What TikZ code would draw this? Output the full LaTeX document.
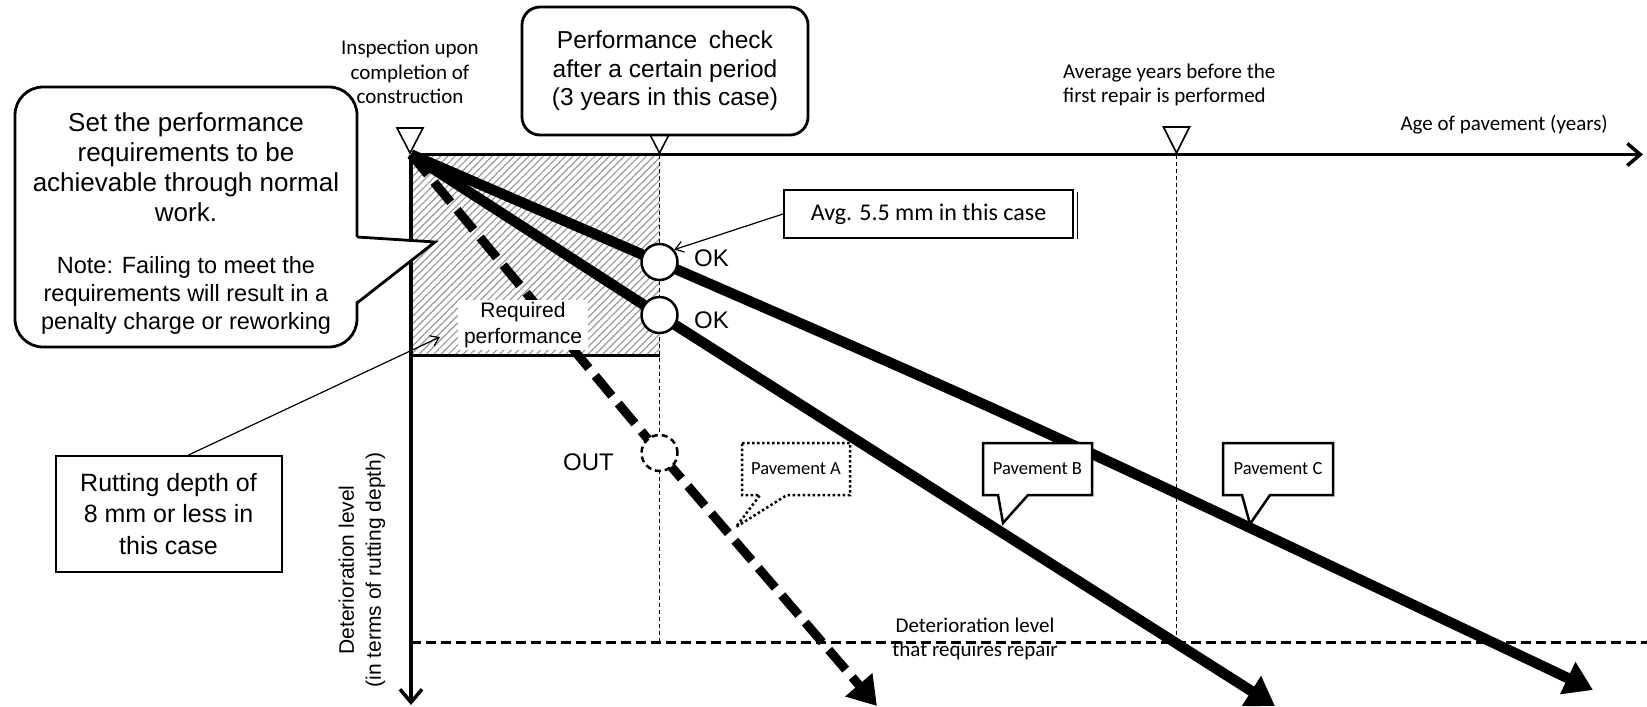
\documentclass[tikz,border=0pt]{standalone}
\usepackage{fontspec}
\setmainfont{Liberation Sans}
\newfontfamily\calfont{Carlito}
\usetikzlibrary{arrows.meta,patterns.meta}
\tikzset{
  axisline/.style={line width=3.5pt, -{Straight Barb[length=13pt,width=22pt]}},
  hatchfill/.style={pattern={Lines[angle=45,distance=5.2pt,line width=1.2pt]}, pattern color=black!40},
  reqedge/.style={line width=3pt},
  guide/.style={line width=1.2pt, dash pattern=on 4pt off 3pt},
  repairline/.style={line width=3pt, dash pattern=on 10pt off 5pt},
  pavline/.style={line width=10.5pt, -{Triangle[length=28pt,width=34pt]}},
  pavdash/.style={pavline, line width=9pt, dash pattern=on 26pt off 10pt},
  okmark/.style={circle, draw, fill=white, line width=2.5pt, minimum size=36pt, inner sep=0pt},
  outmark/.style={okmark, dash pattern=on 6pt off 4pt},
  marktext/.style={font=\fontsize{24}{28}\selectfont, inner sep=0pt},
  caltext/.style={font=\calfont\fontsize{21}{24.5}\selectfont, inner sep=0pt},
  pavtext/.style={font=\calfont\fontsize{18.5}{22}\selectfont, inner sep=0pt},
  pavcall/.style={draw, fill=white, line width=2.5pt, line join=miter},
  pavcalldot/.style={pavcall, dash pattern=on 2.5pt off 2.5pt},
  notebox/.style={draw, fill=white, line width=2pt, align=center},
  callbox/.style={draw, fill=white, line width=2.8pt},
  pointer/.style={line width=1.2pt, -{Straight Barb[length=8pt,width=11pt]}},
  tick/.style={draw, fill=white, line width=1.6pt},
}
\begin{document}
\begin{tikzpicture}[x=1pt,y=-1pt]
\useasboundingbox (0,0) rectangle (1647,707);

% key points of the chart
\coordinate (O) at (411,154.5);
\coordinate (chkC) at (659.5,262);
\coordinate (chkB) at (659.5,315);
\coordinate (chkA) at (659.5,453);
\coordinate (endA) at (877,706);
\coordinate (endB) at (1275,706);
\coordinate (endC) at (1593,690);
\coordinate (xend) at (1643,154.5);
\coordinate (yend) at (411,705);
\coordinate (reqtip) at (440,337);

% required performance area
\fill[hatchfill] (O) rectangle (659.5,355.5);
\draw[reqedge] (411,355.5) -- (659.5,355.5);

% guides
\draw[guide] (659.5,154.5) -- (659.5,642);
\draw[guide] (1176.5,154.5) -- (1176.5,642);
\draw[repairline] (411,642) -- (1647,642);

% axes
\draw[axisline] (O) -- (xend);
\draw[axisline] (O) -- (yend);

% pavements
\draw[pavdash] (O) -- (chkA) -- (endA);
\draw[pavline] (O) -- (chkB) -- (endB);
\draw[pavline] (O) -- (chkC) .. controls (1023,420) .. (endC);

\node[okmark] (okC) at (chkC) {};
\node[okmark] (okB) at (chkB) {};
\node[outmark] (outA) at (chkA) {};
\node[marktext, anchor=west] (okCtext) at (694,258) {OK};
\node[marktext, anchor=west] (okBtext) at (694,320) {OK};
\node[marktext, anchor=east] (outtext) at (614,462) {OUT};

\node[fill=white, align=center, inner xsep=6pt, inner ysep=2pt,
  font=\fontsize{21}{26}\selectfont] (req) at (523,325) {Required\\performance};

% notes
\node[notebox, minimum width=226pt, minimum height=116pt,
  font=\fontsize{25}{31.5}\selectfont] (rut) at (168.5,514) {Rutting depth of\\8 mm or less in\\this case};
\draw[pointer] ([xshift=20pt]rut.north) -- (reqtip);

\node[notebox, minimum width=289pt, minimum height=48pt,
  font=\calfont\fontsize{24}{28}\selectfont] (avg) at (928.5,214) {Avg. 5.5 mm in this case};
\draw[line width=1.2pt] ([xshift=3.5pt,yshift=-3pt]avg.north east) -- ([xshift=3.5pt]avg.south east);
\draw[pointer] (avg.west) -- (okC.40);

\draw[pavcalldot] (742,443) -- (850,443) -- (850,495) -- (787,495) -- (736,527) -- (760,495) -- (742,495) -- cycle;
\draw[pavcall] (983,443) -- (1092,443) -- (1092,495) -- (1028,495) -- (1003,523) -- (998,495) -- (983,495) -- cycle;
\draw[pavcall] (1223,443) -- (1333,443) -- (1333,495) -- (1270,495) -- (1250,524) -- (1242,495) -- (1223,495) -- cycle;
\node[pavtext] (pavA) at (796,469) {Pavement A};
\node[pavtext] (pavB) at (1037.5,469) {Pavement B};
\node[pavtext] (pavC) at (1278,469) {Pavement C};

\node[caltext, align=center] (repair) at (975,639) {Deterioration level\\that requires repair};
\node[rotate=90, align=center, inner sep=0pt,
  font=\fontsize{21}{27}\selectfont] (ylab) at (362,570) {Deterioration level\\(in terms of rutting depth)};

% callout on the left
\node[callbox, rounded corners=28pt, minimum width=342pt, minimum height=260pt] (setreq) at (186,217) {};
\fill[white] (354,237) -- (435,242) -- (354,303) -- cycle;
\draw[line width=2.8pt, line join=miter] (357,237) -- (435,242) -- (357,303);
\node[align=center, font=\fontsize{26}{30}\selectfont] (setreqtxt) at (186,167)
  {Set the performance\\requirements to be\\achievable through normal\\work.};
\node[align=center, font=\fontsize{23.5}{28}\selectfont] (notetxt) at (186,295)
  {Note: Failing to meet the\\requirements will result in a\\penalty charge or reworking};

% time marks on the axis
\foreach \tx/\ty in {410/128, 659.5/128, 1176.5/127}
  \draw[tick] ({\tx-13},\ty) -- ({\tx+13},\ty) -- (\tx,153) -- cycle;
\node[caltext, align=center] (insp) at (410,72) {Inspection upon\\completion of\\construction};
\node[caltext, align=left, anchor=west] (avgyr) at (1063,85) {Average years before the\\first repair is performed};
\node[caltext, anchor=east] (agelab) at (1608,125) {Age of pavement (years)};

\node[callbox, rounded corners=18pt, minimum width=286pt, minimum height=128pt, align=center,
  font=\fontsize{24.5}{28.5}\selectfont] (perfchk) at (665,71)
  {Performance\hspace{5pt} check\\after a certain period\\(3 years in this case)};
\end{tikzpicture}
\end{document}
